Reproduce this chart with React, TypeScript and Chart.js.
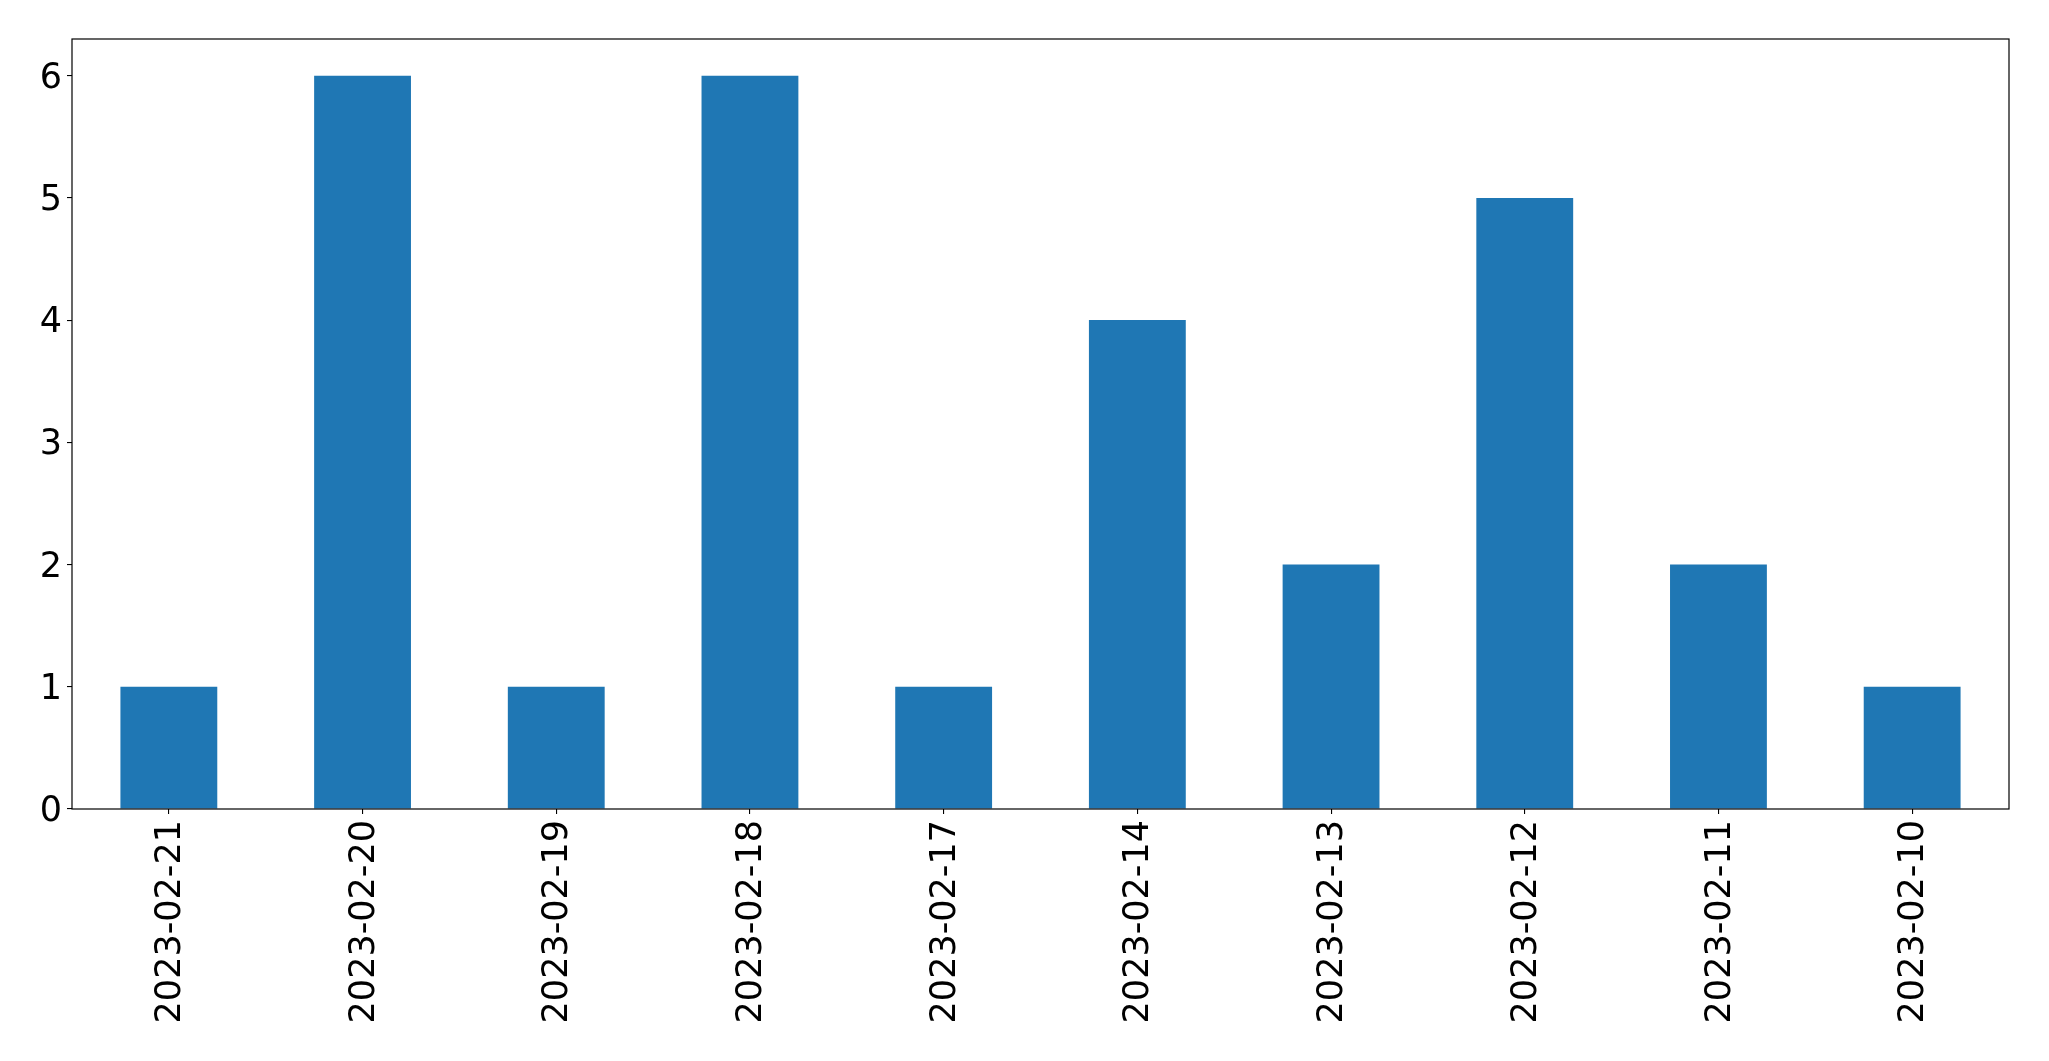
import React, { useEffect, useRef } from "react";
import { Chart, registerables } from "chart.js";

Chart.register(...registerables);

const categories = [
  "2023-02-21",
  "2023-02-20",
  "2023-02-19",
  "2023-02-18",
  "2023-02-17",
  "2023-02-14",
  "2023-02-13",
  "2023-02-12",
  "2023-02-11",
  "2023-02-10",
];
const counts = [1, 6, 1, 6, 1, 4, 2, 5, 2, 1];
const yTickValues = [0, 1, 2, 3, 4, 5, 6];
const yMax = 6.3;

const W = 2049;
const H = 1061;
const AREA = { left: 72, top: 39, right: 2009, bottom: 809 };

const frame = {
  id: "frame",
  afterDraw(chart: any) {
    const { ctx, chartArea } = chart;
    ctx.save();
    ctx.strokeStyle = "#000";
    ctx.lineWidth = 1.2;
    ctx.strokeRect(chartArea.left, chartArea.top, chartArea.right - chartArea.left, chartArea.bottom - chartArea.top);
    ctx.restore();
  },
};

export default function App() {
  const ref = useRef<HTMLCanvasElement | null>(null);
  useEffect(() => {
    if (!ref.current) return;
    const font = { family: "'DejaVu Sans', sans-serif", size: 35 };
    const chart = new Chart(ref.current, {
      type: "bar",
      data: {
        labels: categories,
        datasets: [
          {
            data: counts,
            backgroundColor: "#1f77b4",
            borderWidth: 0,
            barPercentage: 0.5,
            categoryPercentage: 1,
          },
        ],
      },
      options: {
        responsive: false,
        animation: false,
        devicePixelRatio: 1,
        layout: { padding: { top: AREA.top, right: W - AREA.right, left: 0, bottom: 0 } },
        plugins: { legend: { display: false }, tooltip: { enabled: false } },
        scales: {
          x: {
            offset: true,
            grid: { display: true, drawOnChartArea: false, drawTicks: true, tickLength: 5, color: "#000", lineWidth: 1.1, offset: false },
            border: { display: false },
            ticks: { font, color: "#000", minRotation: 90, maxRotation: 90, autoSkip: false, padding: 6, labelOffset: 2 },
            afterFit: (s: any) => {
              s.height = H - AREA.bottom;
            },
          },
          y: {
            min: 0,
            max: yMax,
            grid: { display: true, drawOnChartArea: false, drawTicks: true, tickLength: 5, color: "#000", lineWidth: 1.1 },
            border: { display: false },
            ticks: { font, color: "#000", padding: 5, labelOffset: 3 },
            afterBuildTicks: (s: any) => {
              s.ticks = yTickValues.map((v) => ({ value: v }));
            },
            afterFit: (s: any) => {
              s.width = AREA.left;
            },
          },
        },
      },
      plugins: [frame],
    });
    return () => chart.destroy();
  }, []);
  return (
    <div style={{ position: "fixed", left: 0, top: 0, width: W, height: H, background: "#fff" }}>
      <canvas ref={ref} width={W} height={H} style={{ width: W, height: H, display: "block" }} />
    </div>
  );
}
